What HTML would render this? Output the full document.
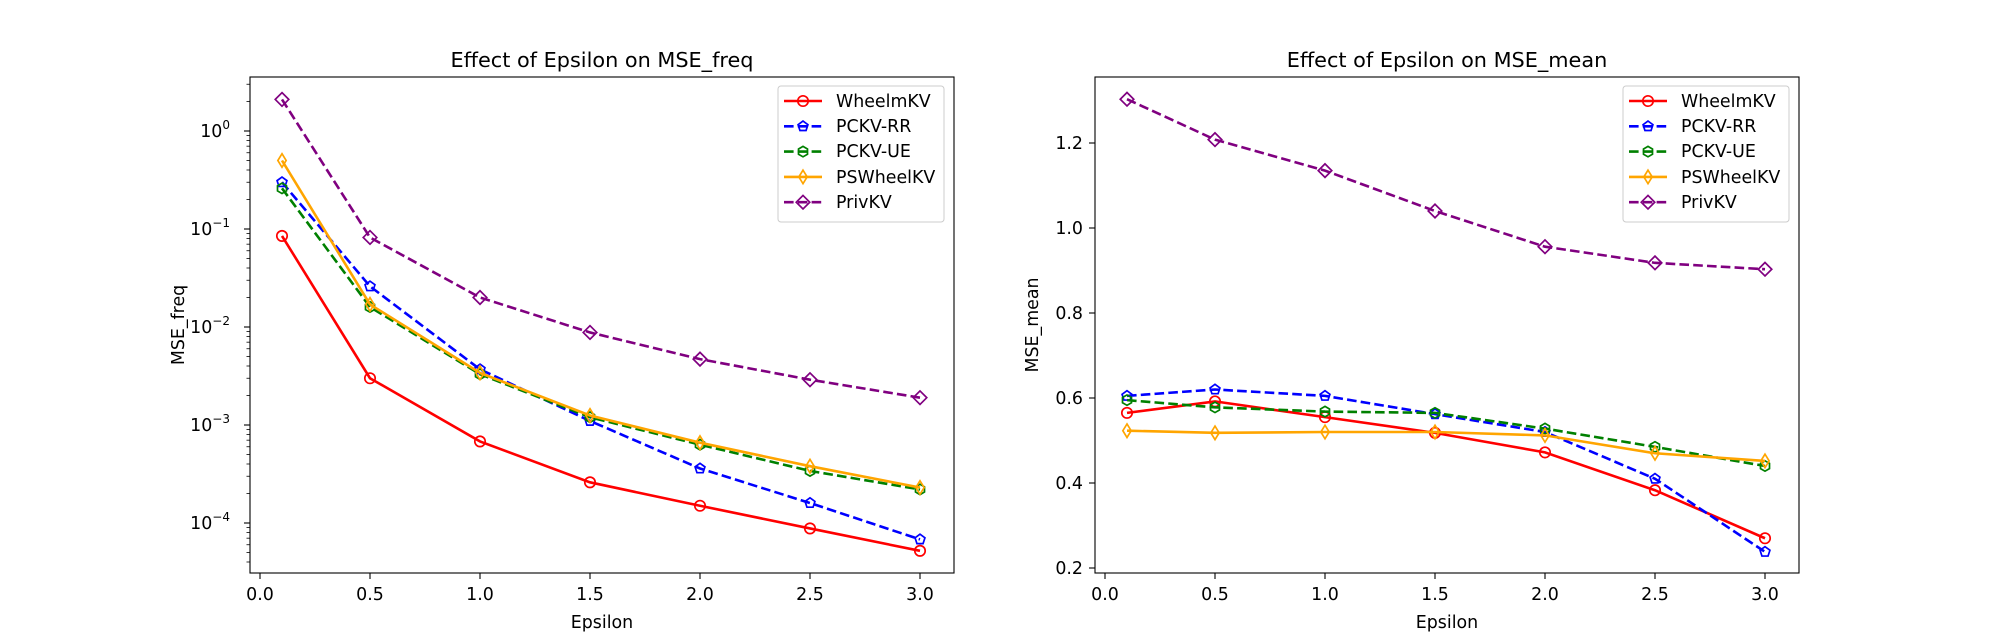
<!DOCTYPE html>
<html><head><meta charset="utf-8"><style>
body{margin:0;background:#fff}
svg{display:block;font-family:"DejaVu Sans","Liberation Sans",sans-serif}
.t{font-size:17.4px;fill:#000}
.ti{font-size:20.8px;fill:#000}
</style></head><body>
<svg id="s" width="1999" height="644" viewBox="0 0 1999 644" xmlns="http://www.w3.org/2000/svg">
<rect width="1999" height="644" fill="#fff"/>
<g id="g"></g>
<!-- Left text -->
<text class="ti" x="602" y="67" text-anchor="middle">Effect of Epsilon on MSE_freq</text>
<text class="ti" x="1447" y="67" text-anchor="middle">Effect of Epsilon on MSE_mean</text>
<g class="t" text-anchor="middle">
<text x="260" y="600">0.0</text><text x="370" y="600">0.5</text><text x="480" y="600">1.0</text><text x="590" y="600">1.5</text><text x="700" y="600">2.0</text><text x="810" y="600">2.5</text><text x="920" y="600">3.0</text>
<text x="1105" y="600">0.0</text><text x="1215" y="600">0.5</text><text x="1325" y="600">1.0</text><text x="1435" y="600">1.5</text><text x="1545" y="600">2.0</text><text x="1655" y="600">2.5</text><text x="1765" y="600">3.0</text>
<text x="602" y="628">Epsilon</text><text x="1447" y="628">Epsilon</text>
</g>
<text class="t" transform="translate(184,325) rotate(-90)" text-anchor="middle">MSE_freq</text>
<text class="t" transform="translate(1038,325) rotate(-90)" text-anchor="middle">MSE_mean</text>
<g class="t" text-anchor="end">
<text x="230" y="137">10<tspan font-size="12" dy="-8">0</tspan></text>
<text x="230" y="235">10<tspan font-size="12" dy="-8">−1</tspan></text>
<text x="230" y="333">10<tspan font-size="12" dy="-8">−2</tspan></text>
<text x="230" y="431">10<tspan font-size="12" dy="-8">−3</tspan></text>
<text x="230" y="529">10<tspan font-size="12" dy="-8">−4</tspan></text>
<text x="1083" y="574">0.2</text><text x="1083" y="489">0.4</text><text x="1083" y="404">0.6</text><text x="1083" y="319">0.8</text><text x="1083" y="234">1.0</text><text x="1083" y="149">1.2</text>
</g>
<g class="t">
<text x="836" y="107">WheelmKV</text><text x="836" y="132">PCKV-RR</text><text x="836" y="157">PCKV-UE</text><text x="836" y="183">PSWheelKV</text><text x="836" y="208">PrivKV</text>
<text x="1681" y="107">WheelmKV</text><text x="1681" y="132">PCKV-RR</text><text x="1681" y="157">PCKV-UE</text><text x="1681" y="183">PSWheelKV</text><text x="1681" y="208">PrivKV</text>
</g>
</svg>
<script>
const g=document.getElementById('g');let h='';
const xs=[0.1,0.5,1,1.5,2,2.5,3];
const S=[
 {c:'red',d:'',m:'o'},{c:'blue',d:'9.6,4.2',m:'p'},{c:'green',d:'9.6,4.2',m:'h'},{c:'orange',d:'',m:'d'},{c:'purple',d:'9.6,4.2',m:'D'}];
const L=[[0.085,0.003,6.8e-4,2.6e-4,1.5e-4,8.8e-5,5.2e-5],[0.3,0.026,0.0037,0.0011,3.6e-4,1.6e-4,6.8e-5],[0.26,0.016,0.0033,0.0012,6.3e-4,3.4e-4,2.2e-4],[0.5,0.017,0.0034,0.00125,6.6e-4,3.8e-4,2.3e-4],[2.1,0.082,0.020,0.0088,0.0047,0.0029,0.0019]];
const R=[[0.565,0.592,0.555,0.518,0.472,0.383,0.27],[0.605,0.62,0.605,0.562,0.52,0.41,0.238],[0.595,0.578,0.568,0.565,0.528,0.485,0.44],[0.523,0.518,0.52,0.52,0.512,0.47,0.452],[1.303,1.208,1.135,1.04,0.956,0.918,0.903]];
function mk(m,x,y,c){const r=5.2;let p='';
 if(m=='o')return `<circle cx="${x}" cy="${y}" r="${r}" fill="none" stroke="${c}" stroke-width="1.7"/>`;
 let pts=[];
 if(m=='p'||m=='h'){const n=m=='p'?5:6;const off=m=='p'?-Math.PI/2:-Math.PI/2;for(let i=0;i<n;i++){const a=off+i*2*Math.PI/n;pts.push([x+r*Math.cos(a),y+r*Math.sin(a)]);}}
 if(m=='d')pts=[[x,y-r*1.3],[x+r*0.8,y],[x,y+r*1.3],[x-r*0.8,y]];
 if(m=='D')pts=[[x,y-r*1.3],[x+r*1.3,y],[x,y+r*1.3],[x-r*1.3,y]];
 return `<polygon points="${pts.map(p=>p.join(',')).join(' ')}" fill="none" stroke="${c}" stroke-width="1.7"/>`;}
function series(X,Y,s){h+=`<polyline points="${X.map((x,i)=>x+','+Y[i]).join(' ')}" fill="none" stroke="${s.c}" stroke-width="2.6" ${s.d?'stroke-dasharray="'+s.d+'"':''}/>`;X.forEach((x,i)=>h+=mk(s.m,x,Y[i],s.c));}
const lx=v=>260+v*220, rx=v=>1105+v*220, ly=v=>131-Math.log10(v)*98, ry=v=>228-(v-1)*425;
// ticks
for(let i=0;i<7;i++){h+=`<line x1="${lx(i/2)}" y1="573" x2="${lx(i/2)}" y2="579" stroke="#000" stroke-width="1.1"/><line x1="${rx(i/2)}" y1="573" x2="${rx(i/2)}" y2="579" stroke="#000" stroke-width="1.1"/>`;}
for(let e=-5;e<=0;e++)for(let k=1;k<10;k++){const y=ly(k*Math.pow(10,e));if(y<77||y>573)continue;h+=`<line x1="${k==1?244:246.5}" y1="${y}" x2="250" y2="${y}" stroke="#000" stroke-width="${k==1?1.1:0.8}"/>`;}
for(let v=0.2;v<1.3;v+=0.2){const y=ry(v);h+=`<line x1="1089" y1="${y}" x2="1095" y2="${y}" stroke="#000" stroke-width="1.1"/>`;}
S.forEach((s,i)=>{series(xs.map(lx),L[i].map(ly),s);series(xs.map(rx),R[i].map(ry),s);});
h+=`<rect x="250" y="77" width="704" height="496" fill="none" stroke="#000" stroke-width="1.1"/><rect x="1095" y="77" width="704" height="496" fill="none" stroke="#000" stroke-width="1.1"/>`;
[778,1623].forEach(bx=>{h+=`<rect x="${bx}" y="86" width="166" height="136" rx="3" fill="#fff" fill-opacity="0.8" stroke="#ccc" stroke-width="1"/>`;
 S.forEach((s,i)=>{const y=101+i*25.3;h+=`<line x1="${bx+6}" y1="${y}" x2="${bx+44}" y2="${y}" stroke="${s.c}" stroke-width="2.6" ${s.d?'stroke-dasharray="'+s.d+'"':''}/>`+mk(s.m,bx+25,y,s.c);});});
g.innerHTML=h;
</script>
</body></html>
